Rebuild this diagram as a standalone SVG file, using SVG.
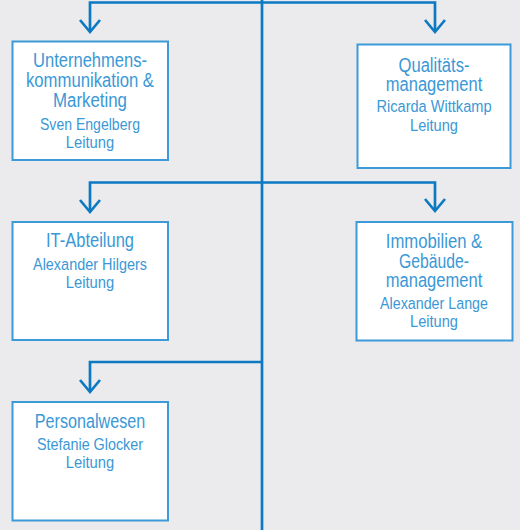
<svg xmlns="http://www.w3.org/2000/svg" width="520" height="530" viewBox="0 0 520 530">
<style>
.bg{fill:#ebebee}
.box{fill:#ffffff;stroke:#3c9ad8;stroke-width:2}
.ln{fill:none;stroke:#0d79c2;stroke-width:2.7;stroke-linejoin:miter}
.ah{fill:none;stroke:#0d79c2;stroke-width:2.7;stroke-linecap:butt;stroke-linejoin:miter}
text{font-family:"Liberation Sans",Arial,sans-serif;fill:#3a98d6;text-anchor:middle}
.t{font-size:19.5px}
.n{font-size:16.3px}
</style>
<rect class="bg" x="0" y="0" width="520" height="530"/>
<g id="connectors">
<path class="ln" d="M262,0 V530"/>
<path class="ln" d="M90,32 V2.5 H435 V32"/>
<path class="ln" d="M90,212 V182.5 H435 V211"/>
<path class="ln" d="M90,392 V362 H262"/>
<path class="ah" d="M80,20 L90,32 L100,20"/>
<path class="ah" d="M425,20 L435,32 L445,20"/>
<path class="ah" d="M80,200 L90,212 L100,200"/>
<path class="ah" d="M425,199 L435,211 L445,199"/>
<path class="ah" d="M80,380 L90,392 L100,380"/>
</g>
<g id="unternehmenskommunikation">
<rect class="box" x="12.5" y="41.5" width="155.5" height="118.5"/>
<text class="t" x="90" y="67" textLength="114" lengthAdjust="spacingAndGlyphs">Unternehmens-</text>
<text class="t" x="90" y="87" textLength="128" lengthAdjust="spacingAndGlyphs">kommunikation &amp;</text>
<text class="t" x="90" y="107" textLength="74" lengthAdjust="spacingAndGlyphs">Marketing</text>
<text class="n" x="90" y="130" textLength="100" lengthAdjust="spacingAndGlyphs">Sven Engelberg</text>
<text class="n" x="90" y="148" textLength="48.5" lengthAdjust="spacingAndGlyphs">Leitung</text>
</g>
<g id="qualitaetsmanagement">
<rect class="box" x="357.5" y="44.5" width="153" height="123.5"/>
<text class="t" x="434" y="72" textLength="71" lengthAdjust="spacingAndGlyphs">Qualitäts-</text>
<text class="t" x="434" y="91" textLength="96.5" lengthAdjust="spacingAndGlyphs">management</text>
<text class="n" x="434" y="112" textLength="115" lengthAdjust="spacingAndGlyphs">Ricarda Wittkamp</text>
<text class="n" x="434" y="131" textLength="48" lengthAdjust="spacingAndGlyphs">Leitung</text>
</g>
<g id="it-abteilung">
<rect class="box" x="12.5" y="222" width="155.5" height="118"/>
<text class="t" x="90" y="247" textLength="88" lengthAdjust="spacingAndGlyphs">IT-Abteilung</text>
<text class="n" x="90" y="270" textLength="114" lengthAdjust="spacingAndGlyphs">Alexander Hilgers</text>
<text class="n" x="90" y="288" textLength="48.5" lengthAdjust="spacingAndGlyphs">Leitung</text>
</g>
<g id="immobilien">
<rect class="box" x="356.5" y="222" width="156" height="118.5"/>
<text class="t" x="434" y="248" textLength="96.5" lengthAdjust="spacingAndGlyphs">Immobilien &amp;</text>
<text class="t" x="434" y="267.5" textLength="70" lengthAdjust="spacingAndGlyphs">Gebäude-</text>
<text class="t" x="434" y="287" textLength="96.5" lengthAdjust="spacingAndGlyphs">management</text>
<text class="n" x="434" y="309" textLength="108" lengthAdjust="spacingAndGlyphs">Alexander Lange</text>
<text class="n" x="434" y="327" textLength="48" lengthAdjust="spacingAndGlyphs">Leitung</text>
</g>
<g id="personalwesen">
<rect class="box" x="12.5" y="402" width="155.5" height="118.5"/>
<text class="t" x="90" y="427.5" textLength="110.5" lengthAdjust="spacingAndGlyphs">Personalwesen</text>
<text class="n" x="90" y="450" textLength="106" lengthAdjust="spacingAndGlyphs">Stefanie Glocker</text>
<text class="n" x="90" y="468" textLength="48.5" lengthAdjust="spacingAndGlyphs">Leitung</text>
</g>
</svg>
